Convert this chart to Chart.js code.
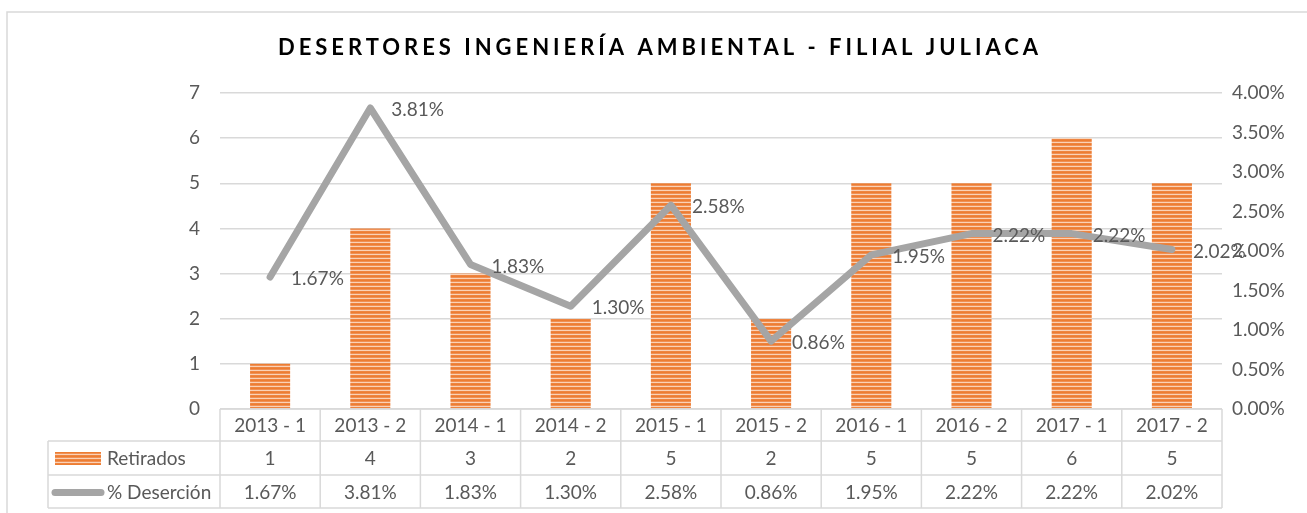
<!DOCTYPE html>
<html>
<head>
<meta charset="utf-8">
<script src="https://cdn.jsdelivr.net/npm/chart.js@4.4.0/dist/chart.umd.min.js"></script>
<style>
  html, body { margin: 0; padding: 0; background: #fff; }
  #wrap { width: 1307px; height: 513px; position: relative; }
</style>
</head>
<body>
<div id="wrap"><canvas id="myChart" width="1307" height="513"></canvas></div>
<script>
const titulo = "DESERTORES INGENIERÍA AMBIENTAL - FILIAL JULIACA";
const semestres = ["2013 - 1", "2013 - 2", "2014 - 1", "2014 - 2", "2015 - 1", "2015 - 2", "2016 - 1", "2016 - 2", "2017 - 1", "2017 - 2"];
const retirados = [1, 4, 3, 2, 5, 2, 5, 5, 6, 5];
const desercion = [1.67, 3.81, 1.83, 1.30, 2.58, 0.86, 1.95, 2.22, 2.22, 2.02];

const FONT = "Lato, 'Open Sans', sans-serif";
const GRIS_TXT = "#595959";
const GRIS_LINEA = "#A5A5A5";
const GRID = "#D9D9D9";

// rayado naranja de las barras
function rayado() {
    const c = document.createElement('canvas');
    c.width = 4; c.height = 4;
    const g = c.getContext('2d');
    const filas = ["#ED7D31", "#F09055", "#FAD2B6", "#EE8440"];
    filas.forEach((col, i) => { g.fillStyle = col; g.fillRect(0, i, 4, 1); });
    return g.createPattern(c, 'repeat');
}
const patron = rayado();

const pct = v => v.toFixed(2) + "%";

// titulo con espaciado entre letras + marco del grafico
const marcoTitulo = {
    id: 'marcoTitulo',
    beforeDraw(chart) {
        const ctx = chart.ctx;
        ctx.save();
        ctx.strokeStyle = GRID;
        ctx.lineWidth = 1.5;
        ctx.strokeRect(7, 12, 1400, 600);
        ctx.font = "bold 22px " + FONT;
        ctx.fillStyle = "#000";
        ctx.textBaseline = 'middle';
        ctx.textAlign = 'left';
        const w = ctx.measureText(titulo).width;
        const esp = (764 - w) / titulo.length;
        ctx.letterSpacing = esp + "px";
        ctx.fillText(titulo, 660 - 382, 48);
        ctx.restore();
    }
};

// etiquetas del % a la derecha de cada punto
const etiquetas = {
    id: 'etiquetas',
    afterDatasetsDraw(chart) {
        const ctx = chart.ctx;
        const meta = chart.getDatasetMeta(1);
        ctx.save();
        ctx.font = "19px " + FONT;
        ctx.fillStyle = GRIS_TXT;
        ctx.textAlign = 'left';
        ctx.textBaseline = 'middle';
        meta.data.forEach((p, i) => {
            ctx.fillText(pct(desercion[i]), p.x + 21, p.y + 2);
        });
        ctx.restore();
    }
};

// tabla de datos bajo el eje
const tabla = {
    id: 'tabla',
    afterDraw(chart) {
        const ctx = chart.ctx;
        const area = chart.chartArea;
        const x = chart.scales.x;
        const n = semestres.length;
        const bordes = [area.left];
        for (let i = 1; i < n; i++) bordes.push((x.getPixelForValue(i - 1) + x.getPixelForValue(i)) / 2);
        bordes.push(area.right);
        const y0 = area.bottom, y1 = y0 + 32, y2 = y1 + 34, y3 = y2 + 33;
        const izq = 48;

        ctx.save();
        ctx.strokeStyle = GRID;
        ctx.lineWidth = 1.5;
        ctx.beginPath();
        ctx.moveTo(area.left, y0); ctx.lineTo(area.right, y0);
        [y1, y2, y3].forEach(y => { ctx.moveTo(izq, y); ctx.lineTo(area.right, y); });
        bordes.forEach(b => { ctx.moveTo(b, y0); ctx.lineTo(b, y3); });
        ctx.moveTo(izq, y1); ctx.lineTo(izq, y3);
        ctx.stroke();

        ctx.font = "19px " + FONT;
        ctx.fillStyle = GRIS_TXT;
        ctx.textAlign = 'center';
        ctx.textBaseline = 'middle';
        for (let i = 0; i < n; i++) {
            const cx = (bordes[i] + bordes[i + 1]) / 2;
            ctx.fillText(semestres[i], cx, (y0 + y1) / 2 + 1);
            ctx.fillText(String(retirados[i]), cx, (y1 + y2) / 2 + 1);
            ctx.fillText(pct(desercion[i]), cx, (y2 + y3) / 2 + 1);
        }

        // claves de leyenda
        ctx.fillStyle = patron;
        ctx.fillRect(55, (y1 + y2) / 2 - 6, 46, 13);
        ctx.strokeStyle = GRIS_LINEA;
        ctx.lineWidth = 7;
        ctx.lineCap = 'round';
        ctx.beginPath();
        ctx.moveTo(55, (y2 + y3) / 2 + 1); ctx.lineTo(101, (y2 + y3) / 2 + 1);
        ctx.stroke();
        ctx.fillStyle = GRIS_TXT;
        ctx.textAlign = 'left';
        ctx.fillText("Retirados", 107, (y1 + y2) / 2 + 1);
        ctx.fillText("% Deserción", 107, (y2 + y3) / 2 + 1);
        ctx.restore();
    }
};

new Chart(document.getElementById("myChart"), {
    type: 'bar',
    data: {
        labels: semestres,
        datasets: [{
            label: "Retirados",
            data: retirados,
            backgroundColor: patron,
            barPercentage: 0.4,
            categoryPercentage: 1,
            yAxisID: 'y',
            order: 2
        }, {
            type: 'line',
            label: "% Deserción",
            data: desercion,
            borderColor: GRIS_LINEA,
            borderWidth: 7,
            borderCapStyle: 'round',
            borderJoinStyle: 'round',
            pointRadius: 0,
            tension: 0,
            yAxisID: 'y1',
            order: 1
        }]
    },
    options: {
        responsive: false,
        animation: false,
        layout: {
            padding: { top: 93, bottom: 104, left: 0, right: 0 }
        },
        scales: {
            x: { display: false },
            y: {
                position: 'left',
                min: 0, max: 7,
                ticks: { stepSize: 1, padding: 20, color: GRIS_TXT, font: { family: FONT, size: 19 } },
                grid: { color: GRID, lineWidth: 1.5, drawTicks: false },
                border: { display: false },
                afterFit: s => { s.width = 220; }
            },
            y1: {
                position: 'right',
                min: 0, max: 4,
                ticks: { stepSize: 0.5, padding: 10, color: GRIS_TXT, font: { family: FONT, size: 19 }, callback: v => pct(v) },
                grid: { display: false, drawTicks: false },
                border: { display: false },
                afterFit: s => { s.width = 85; }
            }
        },
        plugins: {
            legend: { display: false },
            title: { display: false },
            tooltip: { enabled: false }
        }
    },
    plugins: [marcoTitulo, etiquetas, tabla]
});
</script>
</body>
</html>
